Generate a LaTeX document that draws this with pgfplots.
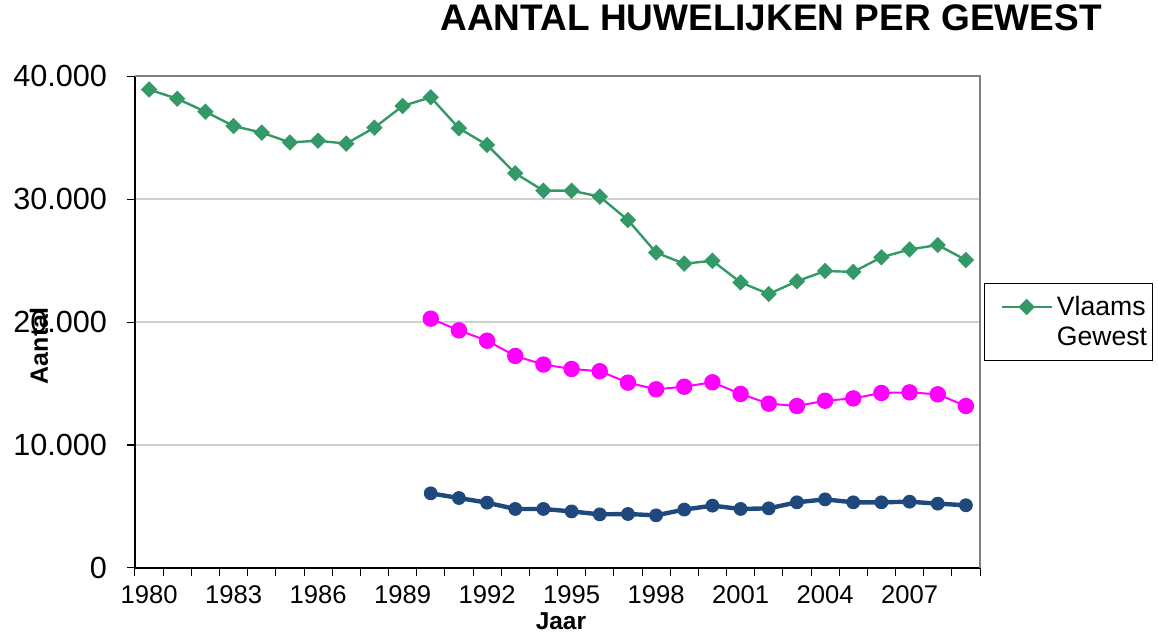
\documentclass[border=0pt]{standalone}
\usepackage{fontspec}
\setmainfont{Liberation Sans}
\usepackage{pgfplots}
\pgfplotsset{compat=1.18}
\definecolor{vlgreen}{HTML}{339966}
\definecolor{wblue}{HTML}{1F497D}
\definecolor{bmag}{HTML}{FF00FF}
\definecolor{gridgray}{HTML}{D0D0D0}

\pgfplotstableread{
year vl
1980 38900
1981 38150
1982 37100
1983 35930
1984 35400
1985 34600
1986 34740
1987 34500
1988 35800
1989 37560
1990 38270
1991 35750
1992 34400
1993 32090
1994 30680
1995 30680
1996 30190
1997 28290
1998 25640
1999 24740
2000 24980
2001 23220
2002 22280
2003 23310
2004 24150
2005 24070
2006 25260
2007 25900
2008 26260
2009 25040
}\vlaams

\pgfplotstableread{
year br
1990 20270
1991 19320
1992 18480
1993 17240
1994 16540
1995 16180
1996 16000
1997 15070
1998 14530
1999 14740
2000 15100
2001 14150
2002 13360
2003 13170
2004 13600
2005 13790
2006 14230
2007 14280
2008 14120
2009 13170
}\magenta

\pgfplotstableread{
year bl
1990 6070
1991 5690
1992 5310
1993 4800
1994 4800
1995 4600
1996 4360
1997 4390
1998 4280
1999 4750
2000 5070
2001 4800
2002 4850
2003 5340
2004 5580
2005 5340
2006 5340
2007 5390
2008 5230
2009 5100
}\blue

\begin{document}
\begin{tikzpicture}
\path[use as bounding box] (0,0) rectangle (579pt,316pt);
\begin{axis}[
  at={(67.5pt,32pt)}, anchor=south west,
  width=422.5pt, height=246pt, scale only axis,
  xmin=1979.5, xmax=2009.5, ymin=0, ymax=40000,
  clip=false,
  axis x line=bottom, axis y line=left,
  axis line style={-, black, line width=0.6pt},
  tick align=outside,
  major tick length=4pt,
  tick style={black, line width=0.5pt},
  xtick={1979.5,1980.5,1981.5,1982.5,1983.5,1984.5,1985.5,1986.5,1987.5,1988.5,1989.5,1990.5,1991.5,1992.5,1993.5,1994.5,1995.5,1996.5,1997.5,1998.5,1999.5,2000.5,2001.5,2002.5,2003.5,2004.5,2005.5,2006.5,2007.5,2008.5,2009.5},
  xticklabels={1980,,,1983,,,1986,,,1989,,,1992,,,1995,,,1998,,,2001,,,2004,,,2007,,,,},
  xticklabel style={xshift=7.04pt, yshift=-1.5pt, font=\fontsize{12.8}{14}\selectfont},
  ytick={0,10000,20000,30000,40000},
  scaled y ticks=false,
  yticklabel style={xshift=-6.5pt, font=\fontsize{15.3}{17}\selectfont},
  /pgf/number format/1000 sep={.},
  /pgf/number format/assume math mode=true,
  ymajorgrids,
  grid style={gridgray, line width=0.6pt},
  xlabel={Jaar},
  xlabel style={at={(axis description cs:0.5041,-0.1087)}, anchor=center, font=\bfseries\fontsize{12.2}{14}\selectfont},
  ylabel={Aantal},
  ylabel style={at={(axis description cs:-0.1136,0.4512)}, anchor=center, rotate=0, font=\bfseries\fontsize{12.5}{14}\selectfont},
  title={AANTAL HUWELIJKEN PER GEWEST},
  title style={at={(axis description cs:0.7527,1.0935)}, anchor=center, font=\bfseries\fontsize{18.5}{20}\selectfont},
  legend style={at={(axis description cs:1.0047,0.5793)}, anchor=north west,
    draw=black, line width=0.5pt, fill=white, font=\fontsize{13.3}{15}\selectfont,
    inner xsep=0.5pt, inner ysep=4.2pt, cells={anchor=west, align=left}},
  legend image code/.code={\path (0pt,7.5pt); \draw[mark repeat=2,mark phase=2,#1] plot coordinates {(7.5pt,7.5pt) (20pt,7.5pt) (32.5pt,7.5pt)};},
]
\addplot[vlgreen, line width=1.2pt, mark=square*, mark size=2.3pt, mark options={solid, rotate=45, fill=vlgreen}] table[x=year,y=vl] {\vlaams};
\addlegendentry{Vlaams\\Gewest}
\addplot[bmag, line width=1pt, mark=*, mark size=3.6pt, mark options={solid, fill=bmag}, forget plot] table[x=year,y=br] {\magenta};
\addplot[wblue, line width=2.2pt, mark=*, mark size=3.2pt, mark options={solid, fill=wblue, line width=0.5pt}, forget plot] table[x=year,y=bl] {\blue};
\draw[gray, line width=1.1pt] (rel axis cs:0,1) -- (rel axis cs:1,1) -- (rel axis cs:1,0);
\end{axis}
\end{tikzpicture}
\end{document}
